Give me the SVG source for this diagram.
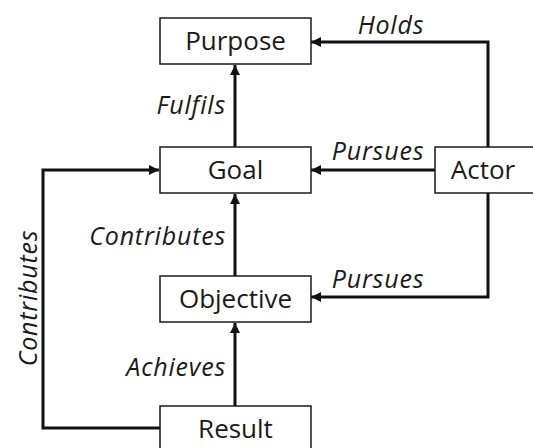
<svg xmlns="http://www.w3.org/2000/svg" width="533" height="448" viewBox="0 0 533 448">
  <style>
    .box { fill: #ffffff; stroke: #1a1a1a; stroke-width: 1.5; }
    .name { font-family: "Open Sans", "Noto Sans", sans-serif; font-size: 26px; fill: #1a1a1a; text-anchor: middle; }
    .rel { font-family: "Open Sans", "Noto Sans", sans-serif; font-size: 25px; letter-spacing: 0.8px; font-style: italic; fill: #1a1a1a; }
    .link { fill: none; stroke: #111111; stroke-width: 3; marker-end: url(#head); }
  </style>
  <defs>
    <marker id="head" viewBox="0 0 10 10" refX="10" refY="5" markerWidth="10" markerHeight="10" markerUnits="userSpaceOnUse" orient="auto">
      <path d="M0,0 L10,5 L0,10 Z" fill="#111111"/>
    </marker>
  </defs>
  <rect width="533" height="448" fill="#ffffff"/>

  <g id="connectors">
    <path class="link" d="M235,147 V65"/>
    <path class="link" d="M235,276 V194"/>
    <path class="link" d="M235,406 V323"/>
    <path class="link" d="M488,147 V42 H311"/>
    <path class="link" d="M435,170 H311"/>
    <path class="link" d="M488,193 V297 H311"/>
    <path class="link" d="M160,428 H43 V170 H159"/>
    <text class="rel" x="391" y="34" text-anchor="middle">Holds</text>
    <text class="rel" x="226" y="114" text-anchor="end">Fulfils</text>
    <text class="rel" x="378" y="160" text-anchor="middle">Pursues</text>
    <text class="rel" x="226" y="245" text-anchor="end">Contributes</text>
    <text class="rel" x="378" y="288" text-anchor="middle">Pursues</text>
    <text class="rel" x="226" y="376" text-anchor="end">Achieves</text>
    <text class="rel" x="0" y="0" text-anchor="middle" transform="translate(37,298) rotate(-90)">Contributes</text>
  </g>

  <g id="purpose">
    <rect class="box" x="160" y="18" width="151" height="46"/>
    <text class="name" x="235.5" y="50">Purpose</text>
  </g>
  <g id="goal">
    <rect class="box" x="160" y="147" width="151" height="46"/>
    <text class="name" x="235.5" y="179">Goal</text>
  </g>
  <g id="actor">
    <rect class="box" x="435" y="147" width="104" height="46"/>
    <text class="name" x="483" y="179">Actor</text>
  </g>
  <g id="objective">
    <rect class="box" x="160" y="276" width="151" height="46"/>
    <text class="name" x="235.5" y="308">Objective</text>
  </g>
  <g id="result">
    <rect class="box" x="160" y="406" width="151" height="50"/>
    <text class="name" x="235.5" y="438">Result</text>
  </g>
</svg>
